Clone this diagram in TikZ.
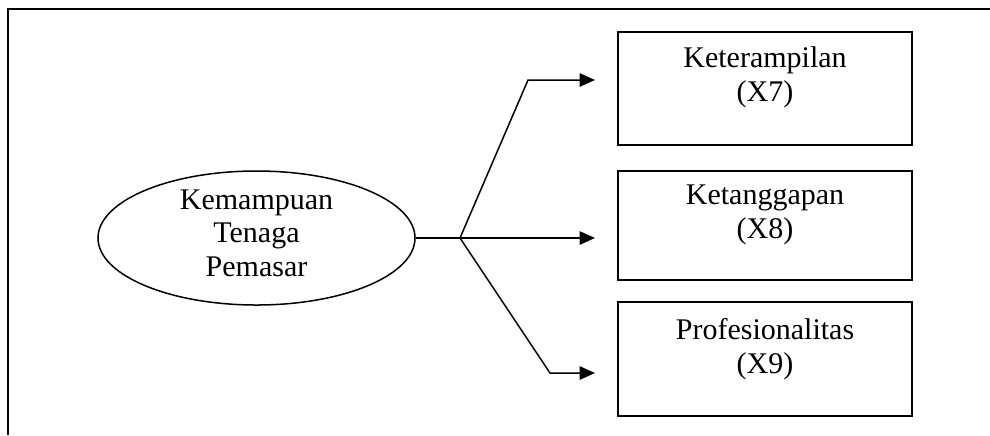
\documentclass[tikz,border=0pt]{standalone}
\usepackage{fontspec}
\setmainfont{Liberation Serif}
\usetikzlibrary{arrows.meta,shapes.geometric,calc}

\begin{document}
\begin{tikzpicture}[x=0.4pt,y=-0.4pt,
  framestyle/.style={line width=0.8pt},
  varbox/.style={draw,rectangle,line width=0.75pt,minimum width=117.6pt,inner sep=0pt},
  construct/.style={draw,ellipse,line width=0.6pt,minimum width=126.8pt,minimum height=53.6pt,inner sep=0pt},
  lbl/.style={align=center,inner sep=0pt,font=\fontsize{12}{13.4}\selectfont},
  link/.style={line width=0.6pt},
  arr/.style={line width=0.6pt,-{Triangle[length=6.2pt,width=5.4pt]}}]

  \useasboundingbox (0,0) rectangle (990,435);

  % outer frame (open at right and bottom)
  \draw[framestyle] (8,435) -- (8,9) -- (990,9);

  % latent construct
  \node[construct] (ell) at (256.5,238) {};
  \node[lbl] (elltext) at ($(ell.center)+(0,-5)$) {Kemampuan\\Tenaga\\Pemasar};

  % indicator boxes
  \node[varbox,minimum height=45.2pt] (b1) at (765,88.5) {};
  \node[varbox,minimum height=43.6pt] (b2) at (765,225.5) {};
  \node[varbox,minimum height=45.6pt] (b3) at (765,359) {};
  \node[lbl] (t1) at ($(b1.north)+(0,46)$) {Keterampilan\\(X7)};
  \node[lbl] (t2) at ($(b2.north)+(0,45)$) {Ketanggapan\\(X8)};
  \node[lbl] (t3) at ($(b3.north)+(0,48)$) {Profesionalitas\\(X9)};

  % branching points and arrow ends
  \coordinate (j) at (460,238);
  \coordinate (k1) at (528,80);
  \coordinate (k3) at (550,373);
  \coordinate (e1) at (595,80);
  \coordinate (e2) at (595,238);
  \coordinate (e3) at (595,373);

  \draw[link] (ell.east) -- (j);
  \draw[arr] (j) -- (k1) -- (e1);
  \draw[arr] (j) -- (e2);
  \draw[arr] (j) -- (k3) -- (e3);
\end{tikzpicture}
\end{document}
